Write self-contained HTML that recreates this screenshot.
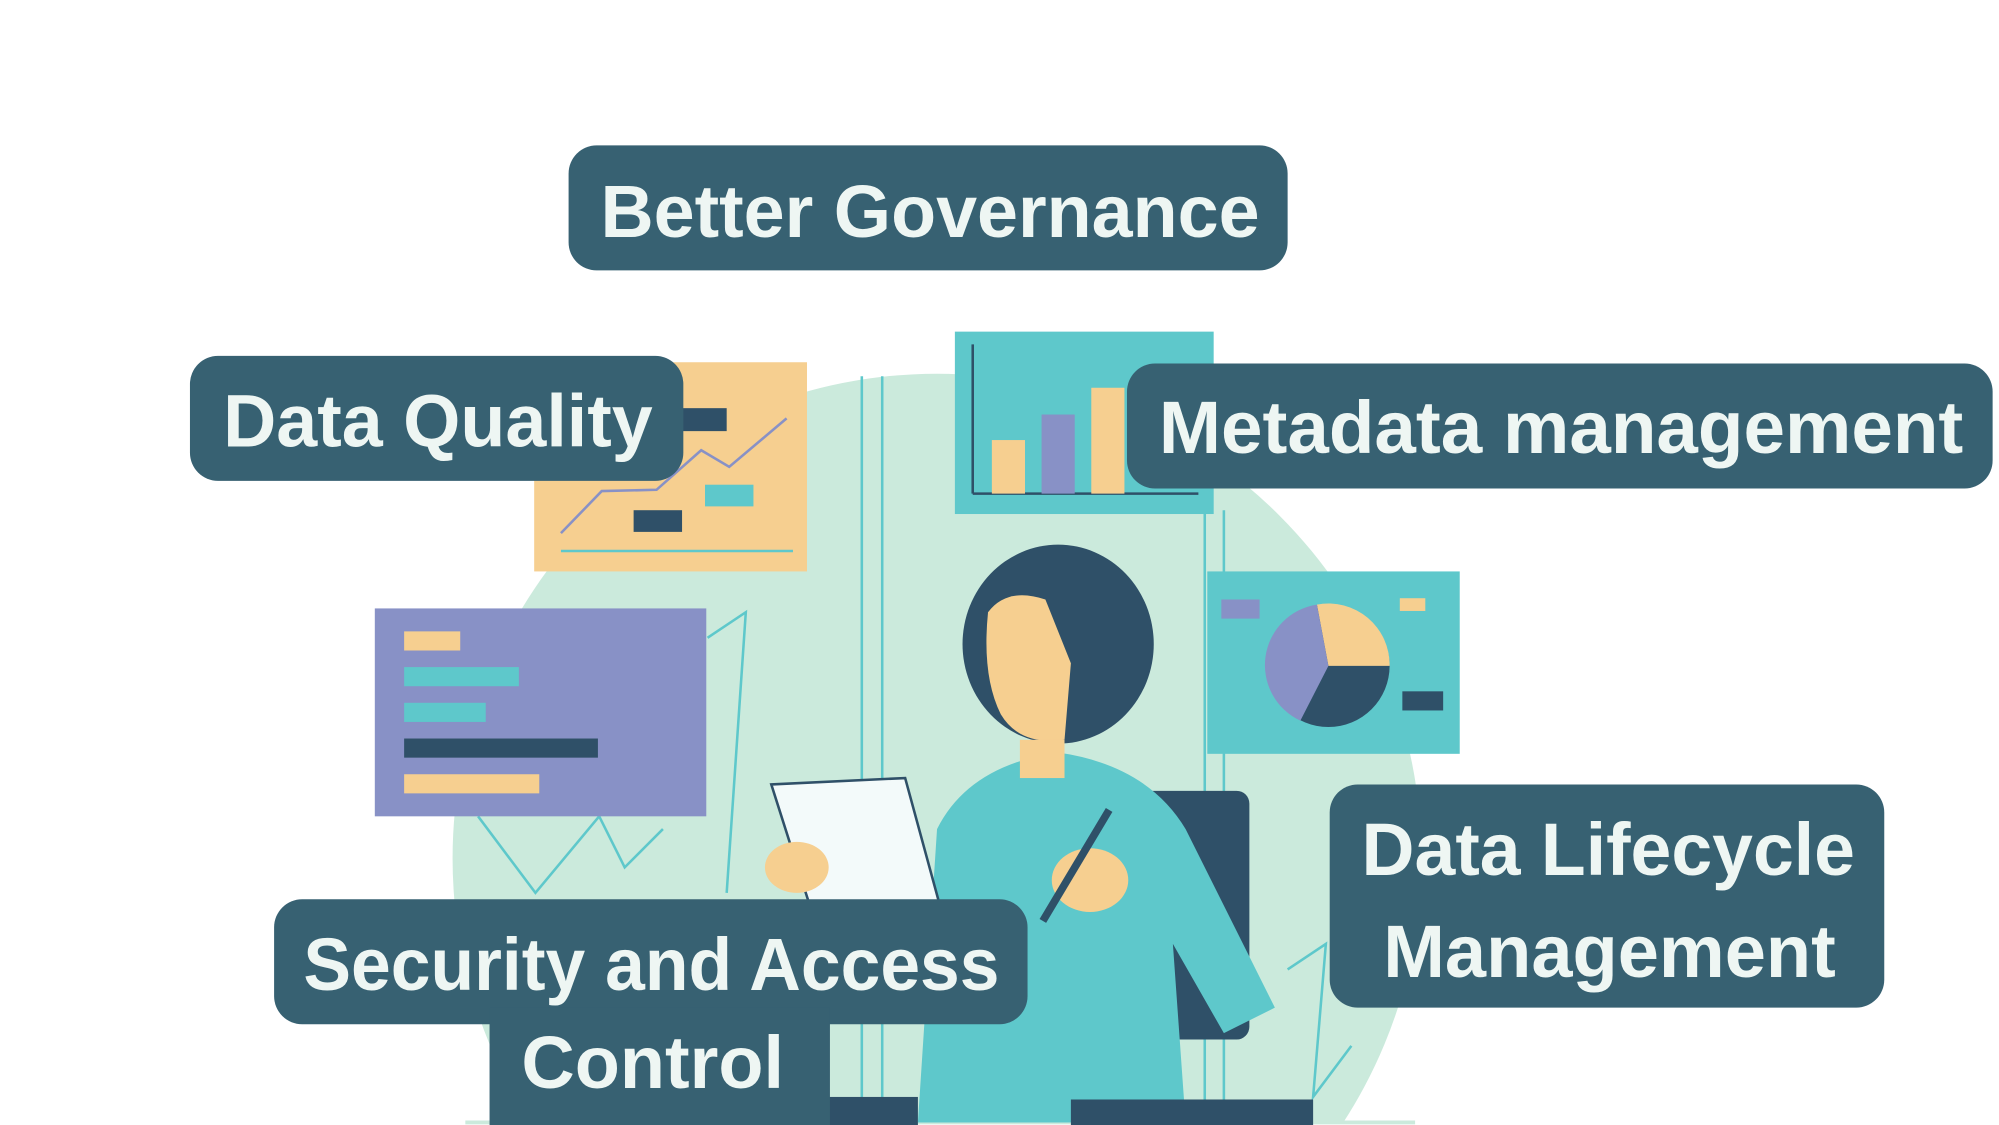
<!DOCTYPE html>
<html><head><meta charset="utf-8"><style>
html,body{margin:0;padding:0;background:#fff;width:1999px;height:1125px;overflow:hidden}
svg{display:block;overflow:hidden}
text{font-family:"Liberation Sans",sans-serif;font-weight:bold;fill:#eef6f3}
</style></head><body>
<svg width="1999" height="1125" viewBox="0 0 1568 882" preserveAspectRatio="none">
<defs><clipPath id="c"><rect x="0" y="0" width="1568" height="880"/></clipPath></defs>
<g clip-path="url(#c)">
<circle cx="735" cy="673" r="380" fill="#cbeadc"/>
</g>
<line x1="365" y1="880" x2="1110" y2="880" stroke="#cbeadc" stroke-width="3"/>
<g stroke="#5ec8cb" stroke-width="2" fill="none">
<line x1="676" y1="295" x2="676" y2="880"/><line x1="692" y1="295" x2="692" y2="880"/>
<line x1="945" y1="400" x2="945" y2="880"/><line x1="960" y1="400" x2="960" y2="880"/>
<polyline points="375,640 420,700 470,640 490,680 520,650"/>
<polyline points="555,500 585,480 570,700"/>
<polyline points="1010,760 1040,740 1030,860 1060,820"/>
</g>
<rect x="419" y="284" width="214" height="164" fill="#f6cf90"/>
<polyline points="440,418 472,385 515,384 550,353 572,366 617,328" stroke="#8891c6" stroke-width="2" fill="none"/>
<line x1="440" y1="432" x2="622" y2="432" stroke="#5ec8cb" stroke-width="2"/>
<rect x="497" y="400" width="38" height="17" fill="#2f5068"/>
<rect x="553" y="380" width="38" height="17" fill="#5ec8cb"/>
<rect x="535" y="320" width="35" height="18" fill="#2f5068"/>
<rect x="749" y="260" width="203" height="143" fill="#5ec8cb"/>
<line x1="763" y1="270" x2="763" y2="387" stroke="#2f5068" stroke-width="2"/>
<line x1="763" y1="387" x2="940" y2="387" stroke="#2f5068" stroke-width="2"/>
<rect x="778" y="345" width="26" height="42" fill="#f6cf90"/>
<rect x="817" y="325" width="26" height="62" fill="#8891c6"/>
<rect x="856" y="304" width="26" height="83" fill="#f6cf90"/>
<rect x="947" y="448" width="198" height="143" fill="#5ec8cb"/>
<circle cx="1042" cy="522" r="48" fill="#2f5068"/>
<path d="M1042,522 L1033,474 A48,48 0 0 1 1090,522 Z" fill="#f6cf90"/>
<path d="M1042,522 L1033,474 A48,48 0 0 0 1020,565 Z" fill="#8891c6"/>
<rect x="958" y="470" width="30" height="15" fill="#8891c6"/>
<rect x="1100" y="542" width="32" height="15" fill="#2f5068"/>
<rect x="1098" y="469" width="20" height="10" fill="#f6cf90"/>
<rect x="294" y="477" width="260" height="163" fill="#8891c6"/>
<rect x="317" y="495" width="44" height="15" fill="#f6cf90"/>
<rect x="317" y="523" width="90" height="15" fill="#5ec8cb"/>
<rect x="317" y="551" width="64" height="15" fill="#5ec8cb"/>
<rect x="317" y="579" width="152" height="15" fill="#2f5068"/>
<rect x="317" y="607" width="106" height="15" fill="#f6cf90"/>
<rect x="880" y="620" width="100" height="195" rx="10" fill="#2f5068"/>
<path d="M720,880 L735,650 Q760,600 830,590 Q900,600 930,650 L1000,790 L960,810 L920,740 L930,880 Z" fill="#5ec8cb"/>
<ellipse cx="830" cy="505" rx="75" ry="78" fill="#2f5068"/>
<path d="M775,480 Q790,460 820,470 L840,520 L835,580 Q800,585 785,560 Q770,530 775,480 Z" fill="#f6cf90"/>
<rect x="800" y="580" width="35" height="30" fill="#f6cf90"/>
<path d="M605,615 L710,610 L740,720 L640,725 Z" fill="#f3fafa" stroke="#2f5068" stroke-width="2"/>
<ellipse cx="625" cy="680" rx="25" ry="20" fill="#f6cf90"/>
<ellipse cx="855" cy="690" rx="30" ry="25" fill="#f6cf90"/>
<line x1="870" y1="635" x2="818" y2="722" stroke="#2f5068" stroke-width="6"/>
<rect x="640" y="860" width="80" height="22" fill="#2f5068"/>
<rect x="840" y="862" width="190" height="20" fill="#2f5068"/>
<rect x="446" y="114" width="564" height="98" rx="22" fill="#376172"/>
<text x="471" y="186" font-size="58" textLength="517" lengthAdjust="spacingAndGlyphs">Better Governance</text>
<rect x="149" y="279" width="387" height="98" rx="22" fill="#376172"/>
<text x="175" y="350" font-size="58" textLength="337" lengthAdjust="spacingAndGlyphs">Data Quality</text>
<rect x="884" y="285" width="679" height="98" rx="22" fill="#376172"/>
<text x="909" y="355" font-size="58" textLength="631" lengthAdjust="spacingAndGlyphs">Metadata management</text>
<rect x="1043" y="615" width="435" height="175" rx="22" fill="#376172"/>
<text x="1068" y="686" font-size="58" textLength="387" lengthAdjust="spacingAndGlyphs">Data Lifecycle</text>
<text x="1085" y="766" font-size="58" textLength="355" lengthAdjust="spacingAndGlyphs">Management</text>
<rect x="215" y="705" width="591" height="98" rx="22" fill="#376172"/>
<path d="M384,790 H651 V882 H384 Z" fill="#376172"/>
<text x="238" y="776" font-size="58" textLength="546" lengthAdjust="spacingAndGlyphs">Security and Access</text>
<text x="409" y="853" font-size="58" textLength="206" lengthAdjust="spacingAndGlyphs">Control</text>
</svg>
</body></html>
